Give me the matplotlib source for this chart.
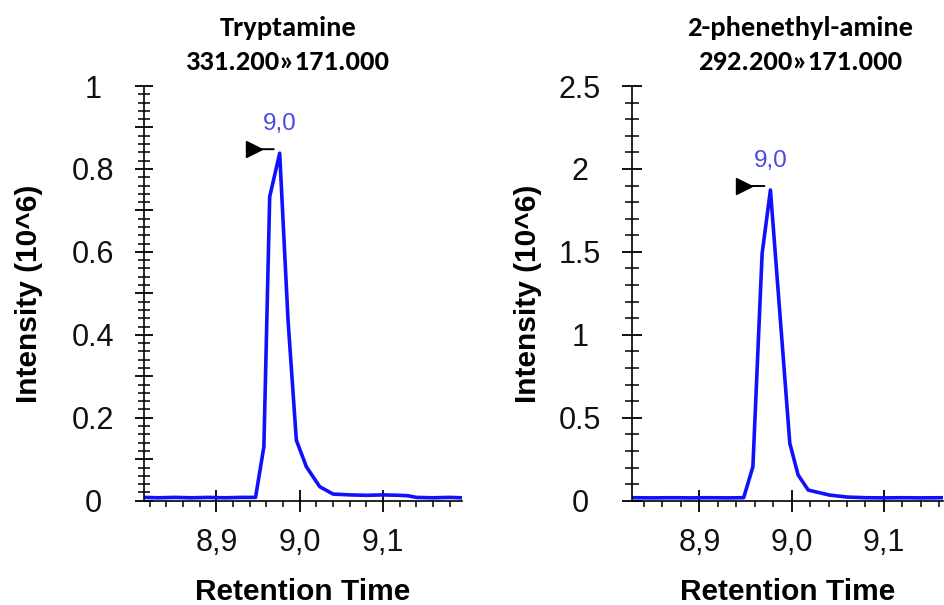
import matplotlib
matplotlib.use("Agg")
import matplotlib.pyplot as plt
from matplotlib import font_manager as fm
from matplotlib.ticker import MultipleLocator, FuncFormatter
from matplotlib.transforms import offset_copy

# ---------------- data ----------------
left_title = "Tryptamine"
left_transition = "331.200\u00bb171.000"
left_rt = [8.813, 8.83, 8.85, 8.87, 8.89, 8.91, 8.93, 8.947, 8.957, 8.964, 8.976,
           8.986, 8.996, 9.008, 9.024, 9.040, 9.06, 9.08, 9.10, 9.12, 9.13, 9.14,
           9.16, 9.18, 9.195]
left_int = [0.008, 0.007, 0.008, 0.007, 0.008, 0.007, 0.008, 0.008, 0.13, 0.733, 0.838,
            0.436, 0.146, 0.082, 0.034, 0.016, 0.014, 0.013, 0.014, 0.013, 0.012, 0.008,
            0.007, 0.008, 0.007]

right_title = "2-phenethyl-amine"
right_transition = "292.200\u00bb171.000"
right_rt = [8.827, 8.85, 8.87, 8.89, 8.91, 8.93, 8.948, 8.958, 8.968, 8.977, 8.998,
            9.007, 9.018, 9.041, 9.06, 9.08, 9.10, 9.12, 9.14, 9.164]
right_int = [0.018, 0.017, 0.018, 0.017, 0.018, 0.017, 0.018, 0.205, 1.49, 1.873, 0.346,
             0.155, 0.064, 0.034, 0.022, 0.018, 0.017, 0.018, 0.017, 0.018]

x_ticks = [8.9, 9.0, 9.1]
x_label = "Retention Time"
y_label = "Intensity (10^6)"

LINE_BLUE = "#1010ff"
PEAK_BLUE = "#4b46e6"


def has_font(name):
    try:
        fm.findfont(fm.FontProperties(family=name), fallback_to_default=False)
        return True
    except ValueError:
        return False


TICK_FONT = "Liberation Sans" if has_font("Liberation Sans") else "DejaVu Sans"
TITLE_FONT = "Carlito" if has_font("Carlito") else "Open Sans"

W, H = 945, 605
fig = plt.figure(figsize=(W / 100, H / 100), dpi=100)


def px_axes(x0, x1, y_top, y_bot):
    return fig.add_axes([x0 / W, (H - y_bot) / H, (x1 - x0) / W, (y_bot - y_top) / H])


def fmt_y(v, pos, step):
    # label only every "step", drop trailing zeros ("1", "0.8", "2.5")
    if abs(v / step - round(v / step)) > 1e-6:
        return ""
    s = f"{v:.1f}"
    return s[:-2] if s.endswith(".0") else s


def draw_panel(ax, rt, inten, xlim, ylim, ymaj, ymin, ylab_step, ylab_x, ytick_len):
    ax.plot(rt, inten, color=LINE_BLUE, lw=2.6, solid_joinstyle="round")
    ax.set_xlim(*xlim)
    ax.set_ylim(*ylim)

    for s in ("top", "right"):
        ax.spines[s].set_visible(False)
    for s in ("left", "bottom"):
        ax.spines[s].set_linewidth(1.2)

    ax.xaxis.set_major_locator(plt.FixedLocator(x_ticks))
    ax.xaxis.set_major_formatter(FuncFormatter(lambda v, p: f"{v:.1f}".replace(".", ",")))
    ax.xaxis.set_minor_locator(MultipleLocator(0.02))
    ax.yaxis.set_major_locator(MultipleLocator(ymaj))
    ax.yaxis.set_minor_locator(MultipleLocator(ymin))
    ax.yaxis.set_major_formatter(FuncFormatter(lambda v, p: fmt_y(v, p, ylab_step)))

    ax.tick_params(axis="x", which="major", direction="inout", length=16, width=1.3,
                   pad=12, labelsize=22)
    ax.tick_params(axis="x", which="minor", direction="out", length=4.5, width=1.1)
    ax.tick_params(axis="y", which="major", direction="inout", length=ytick_len[0],
                   width=1.3, pad=30, labelsize=22)
    ax.tick_params(axis="y", which="minor", direction="inout", length=ytick_len[1],
                   width=1.1)
    for t in ax.get_xticklabels() + ax.get_yticklabels():
        t.set_fontfamily(TICK_FONT)
        t.set_color("#111111")
    for t in ax.get_yticklabels():
        t.set_horizontalalignment("center")

    ax.set_xlabel(x_label, fontsize=21.5, fontweight="bold", family=TICK_FONT, va="center")
    ax.xaxis.set_label_coords(0.5, -0.221)
    ax.set_ylabel(y_label, fontsize=21.5, fontweight="bold", family=TICK_FONT, va="center")
    ax.yaxis.set_label_coords(ylab_x, 0.5)

    # peak marker: retention time label and the black flag pointing at the apex
    i = max(range(len(inten)), key=lambda k: inten[k])
    pk = (rt[i], inten[i])
    ax.annotate(f"{round(rt[i], 1):.1f}".replace(".", ","), xy=pk, xytext=(0, 29),
                textcoords="offset pixels", ha="center", va="center",
                fontsize=17.5, color=PEAK_BLUE, family=TICK_FONT)
    ax.plot([pk[0]], [pk[1]], marker=">", markersize=11.5, color="black", clip_on=False,
            transform=offset_copy(ax.transData, fig=fig, x=-26, y=4, units="dots"))
    ax.annotate("", xy=pk, xycoords=offset_copy(ax.transData, fig=fig, x=-6, y=4, units="dots"),
                xytext=pk, textcoords=offset_copy(ax.transData, fig=fig, x=-20, y=4, units="dots"),
                arrowprops=dict(arrowstyle="-", lw=1.4, color="black", shrinkA=0, shrinkB=0))


ax1 = px_axes(144, 462, 86, 500.7)
draw_panel(ax1, left_rt, left_int, (8.813, 9.195), (0, 1), 0.1, 0.02, 0.2, -0.362, (13, 8))

ax2 = px_axes(632, 943, 86, 500.7)
draw_panel(ax2, right_rt, right_int, (8.827, 9.164), (0, 2.5), 0.5, 0.1, 0.5, -0.334, (15, 9.5))

# two-line titles, placed like the source (not quite centred on the axes)
for x, name, trans in ((288, left_title, left_transition), (800, right_title, right_transition)):
    fig.text(x / W, 1 - 28 / H, name, ha="center", va="center", fontsize=20.5,
             fontweight="bold", family=TITLE_FONT)
    fig.text(x / W, 1 - 62 / H, trans, ha="center", va="center", fontsize=20.5,
             fontweight="bold", family=TITLE_FONT)

fig.savefig("out.png", dpi=100)
